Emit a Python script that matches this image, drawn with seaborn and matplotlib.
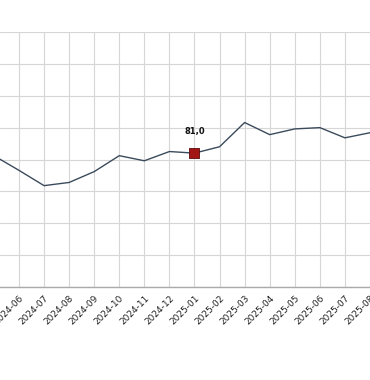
import matplotlib
matplotlib.use('Agg')
import matplotlib.pyplot as plt
import matplotlib.transforms as mtransforms
import pandas as pd
import seaborn as sns

# monthly values
months = ['2024-05', '2024-06', '2024-07', '2024-08', '2024-09', '2024-10',
          '2024-11', '2024-12', '2025-01', '2025-02', '2025-03', '2025-04',
          '2025-05', '2025-06', '2025-07', '2025-08']
values = [80.6, 78.3, 75.9, 76.4, 78.1, 80.6, 79.8, 81.25, 81.0, 82.0,
          85.8, 83.9, 84.8, 85.0, 83.4, 84.2]
highlight_month = '2025-01'
highlight_label = '81,0'

df = pd.DataFrame({'month': months, 'value': values})
df['pos'] = range(len(df))

sns.set_style('whitegrid')
plt.rcParams['font.family'] = ['DejaVu Sans']

fig = plt.figure(figsize=(3.7, 3.8), dpi=100)
ax = fig.add_axes([0.0, 0.2447, 1.0, 0.6711])

sns.lineplot(data=df, x='pos', y='value', ax=ax, color='#3b4b5c', linewidth=1.0)

hl = df[df['month'] == highlight_month]
ax.scatter(hl['pos'], hl['value'], marker='s', s=58, color='#a31515',
           edgecolor='#5a0a0a', linewidth=0.6, zorder=5)
ax.annotate(highlight_label, (hl['pos'].iloc[0], hl['value'].iloc[0]),
            xytext=(0, 12), textcoords='offset points', ha='center', va='bottom',
            fontsize=6, fontweight='bold', color='#111111')

ax.set_yticks(range(60, 101, 5))
ax.set_xticks(df['pos'])
ax.set_xticklabels(df['month'], rotation=45, ha='right', rotation_mode='anchor',
                   fontsize=6.5, color='#222222')
# ticks expand the view, so limits go after them
ax.set_xlim(0.243, 15.0)
ax.set_ylim(60, 100)

shift = mtransforms.ScaledTranslation(0.03, 0, fig.dpi_scale_trans)
for label in ax.get_xticklabels():
    label.set_transform(label.get_transform() + shift)

ax.tick_params(axis='x', length=3, color='#cccccc', pad=2)
ax.tick_params(axis='y', left=False, labelleft=False)
ax.grid(True, color='#d6d6d6', linewidth=0.8)
ax.set_xlabel('')
ax.set_ylabel('')

for side in ['left', 'right', 'top']:
    ax.spines[side].set_visible(False)
ax.spines['bottom'].set_color('#aaaaaa')
ax.spines['bottom'].set_linewidth(1.0)

fig.savefig('out.png', dpi=100)
